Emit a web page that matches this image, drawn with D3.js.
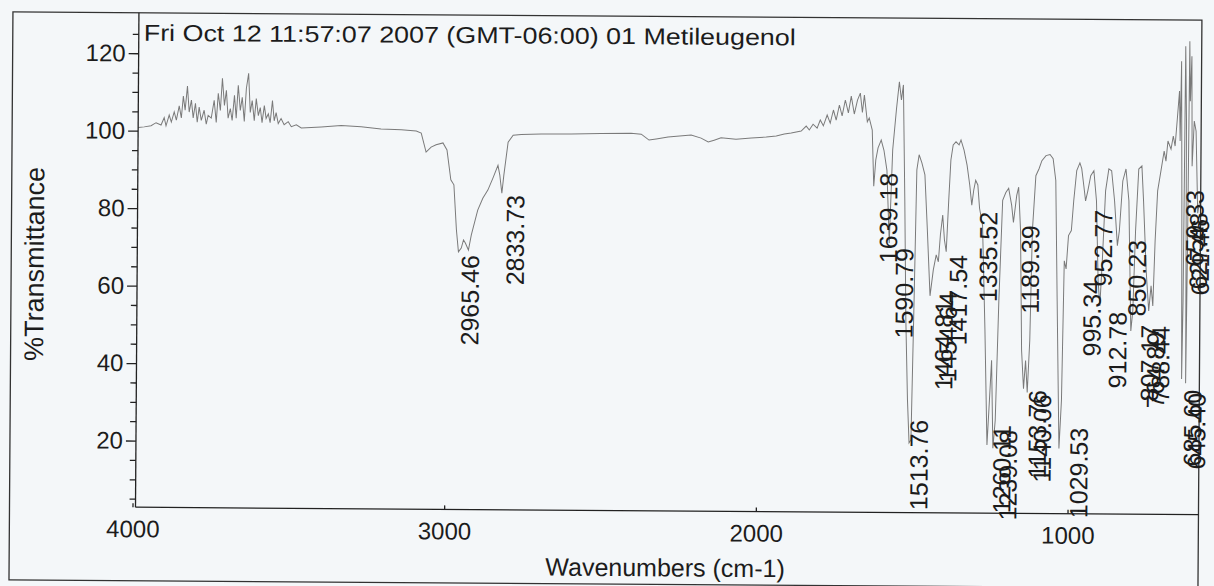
<!DOCTYPE html>
<html>
<head>
<meta charset="utf-8">
<script src="https://cdn.jsdelivr.net/npm/d3@7"></script>
<style>
  body { margin: 0; background: #f4f7f9; }
  svg { display: block; font-family: "Liberation Sans", Arial, sans-serif; }
</style>
</head>
<body>
<script>
// IR spectrum of methyleugenol
var wn = [3990, 3971, 3949, 3933, 3917, 3907, 3901, 3891, 3884, 3875, 3868, 3859, 3852, 3846, 3840, 3833,
  3827, 3820, 3814, 3807, 3801, 3795, 3788, 3779, 3772, 3766, 3756, 3747, 3740, 3734, 3727, 3721, 3714,
  3708, 3702, 3695, 3689, 3682, 3676, 3670, 3663, 3657, 3650, 3644, 3637, 3631, 3625, 3618, 3612, 3605,
  3599, 3593, 3586, 3580, 3573, 3567, 3560, 3554, 3548, 3541, 3532, 3522, 3509, 3499, 3483, 3467, 3403,
  3339, 3275, 3211, 3146, 3098, 3082, 3066, 3050, 3034, 3012, 2999, 2986, 2976, 2967, 2960, 2951, 2944,
  2938, 2928, 2919, 2899, 2883, 2867, 2851, 2835, 2829, 2822, 2816, 2803, 2787, 2761, 2697, 2601, 2505,
  2409, 2376, 2351, 2328, 2290, 2216, 2184, 2161, 2142, 2120, 2072, 2023, 1975, 1943, 1917, 1895, 1863,
  1847, 1837, 1825, 1812, 1802, 1792, 1780, 1770, 1760, 1751, 1741, 1732, 1722, 1712, 1703, 1693, 1683,
  1674, 1667, 1661, 1651, 1645, 1635, 1629, 1623, 1616, 1606, 1597, 1587, 1578, 1569, 1558, 1549, 1542,
  1536, 1529, 1523, 1516, 1510, 1504, 1497, 1491, 1484, 1475, 1465, 1456, 1446, 1436, 1427, 1420, 1414,
  1407, 1401, 1395, 1388, 1382, 1375, 1366, 1356, 1350, 1340, 1330, 1321, 1314, 1308, 1302, 1295, 1289,
  1279, 1269, 1260, 1253, 1247, 1241, 1234, 1225, 1215, 1205, 1196, 1186, 1180, 1170, 1164, 1157, 1151,
  1144, 1138, 1132, 1125, 1119, 1109, 1099, 1090, 1077, 1064, 1054, 1045, 1038, 1029, 1022, 1016, 1010,
  1003, 994, 987, 978, 968, 962, 955, 949, 942, 933, 923, 914, 907, 901, 894, 885, 875, 866, 856, 846,
  840, 830, 820, 810, 801, 795, 788, 779, 769, 763, 753, 744, 737, 731, 725, 718, 708, 698, 692, 686,
  676, 669, 663, 657, 650, 647, 644, 640, 637, 634, 631, 627, 624, 621, 618, 615, 611, 608, 602, 596,
  589, 583];
var trans = [100.8, 101.0, 101.3, 102.1, 101.5, 103.4, 101.3, 104.1, 102.3, 104.9, 102.8, 106.5, 103.4, 109.0, 105.4, 111.6,
  104.9, 108.0, 103.4, 107.2, 102.3, 106.2, 102.8, 105.4, 101.8, 104.1, 103.4, 108.0, 102.3, 109.8, 105.4, 113.7, 106.7,
  110.6, 103.4, 105.9, 102.8, 109.3, 103.4, 111.9, 105.4, 108.8, 102.6, 111.1, 115.0, 104.9, 108.0, 102.8, 108.5, 104.1,
  106.2, 102.3, 106.7, 103.4, 104.6, 102.3, 108.0, 102.8, 104.9, 102.1, 103.4, 101.8, 102.6, 101.3, 101.8, 101.0, 101.3,
  101.7, 101.4, 100.9, 100.7, 100.4, 99.9, 95.0, 96.3, 96.9, 97.4, 95.6, 87.9, 86.6, 75.0, 69.3, 70.3, 72.4,
  71.6, 69.8, 73.7, 80.1, 83.2, 85.3, 88.4, 91.7, 89.2, 84.5, 89.2, 97.7, 99.5, 99.7, 99.9, 99.9, 100.1,
  100.2, 100.0, 98.5, 98.8, 99.3, 99.9, 99.1, 98.1, 98.6, 99.2, 98.9, 99.2, 99.5, 99.8, 100.3, 100.6, 101.1,
  102.4, 101.4, 102.9, 101.9, 104.0, 102.5, 105.3, 103.2, 106.6, 104.0, 107.9, 105.1, 109.2, 105.9, 110.2, 105.6, 109.2,
  111.0, 106.0, 110.5, 103.6, 104.6, 101.5, 87.0, 93.8, 96.9, 98.9, 96.3, 91.1, 72.4, 96.4, 106.7, 114.0, 109.3,
  113.2, 83.5, 52.6, 31.9, 20.8, 21.6, 57.7, 91.3, 95.2, 93.1, 90.0, 75.8, 58.8, 65.5, 69.4, 67.6, 74.6,
  79.7, 73.3, 70.2, 83.6, 93.9, 97.8, 98.6, 97.8, 99.1, 96.5, 92.6, 87.5, 82.3, 86.2, 88.7, 87.5, 81.5,
  77.1, 50.0, 20.4, 32.0, 42.3, 19.6, 26.8, 57.8, 83.6, 85.6, 86.7, 82.3, 77.9, 84.9, 87.0, 75.8, 44.9,
  35.0, 42.3, 34.0, 47.4, 75.8, 90.0, 91.8, 93.9, 95.2, 95.5, 94.4, 88.8, 57.8, 19.6, 32.0, 68.1, 66.0,
  74.6, 75.9, 83.6, 91.4, 93.4, 91.9, 87.5, 83.6, 86.2, 90.1, 91.4, 83.6, 63.0, 56.5, 68.2, 86.2, 91.9, 91.4, 83.7, 72.1,
  75.9, 88.8, 91.9, 83.7, 50.1, 55.3, 75.9, 91.9, 92.7, 83.7, 65.6, 55.3, 61.8, 56.6, 73.4, 86.3, 91.4, 96.6, 94.0, 99.2,
  97.1, 100.5, 97.9, 104.4, 112.1, 99.2, 119.8, 83.7, 37.8, 57.9, 123.7, 104.4, 36.7, 70.8, 125.0, 109.5, 121.1, 92.7, 104.4, 101.8,
  80.6, 83.7];

// peak tags as printed, and where each tag sits (wavenumber, %T of its top end)
var tagText = ["2965.46", "2833.73", "1639.18", "1590.79", "1513.76", "1464.81", "1454.64", "1417.54",
  "1335.52", "1260.11", "1239.08", "1189.39", "1153.76", "1140.06", "1029.53", "995.34", "952.77",
  "912.78", "850.23", "807.17", "764.89", "788.44", "659.33", "627.48", "621.46", "685.60", "645.40"];
var tagWn = [2922, 2778, 1581, 1529, 1478, 1401, 1388, 1356, 1260, 1212, 1192, 1125, 1099, 1083, 965,
  926, 891, 843, 782, 740, 721, 705, 598, 586, 580, 601, 588];
var tagT = [68.5, 84.1, 90.5, 71.1, 26.8, 57.8, 59.8, 69.4, 80.6, 25.6, 24.3, 77.2, 34.7, 33.6, 25.0,
  63.2, 81.3, 55.0, 73.6, 51.7, 49.9, 51.4, 86.6, 80.7, 79.1, 35.0, 34.2];

var xTicks = [4000, 3000, 2000, 1000];
var yTicks = [20, 40, 60, 80, 100, 120];
var yMinor = [5, 10, 15, 25, 30, 35, 45, 50, 55, 65, 70, 75, 85, 90, 95, 105, 110, 115, 125];
var title = "Fri Oct 12 11:57:07 2007 (GMT-06:00) 01 Metileugenol";

var w = 1214, h = 586;
var plotLeft = 137, plotRight = 1200, plotTop = 16, plotBottom = 510.5;
var ink = "#1c1c1c";

var svg = d3.select("body").append("svg")
    .attr("width", w)
    .attr("height", h);

// the scan is slightly skewed
var g = svg.append("g").attr("transform", "rotate(0.4,607,293)");

var xScale = d3.scaleLinear().domain([4000, 583]).range([134, 1199]);
var yScale = d3.scaleLinear().domain([2.8, 130.2]).range([plotBottom, 17]);

// outer frame
g.append("rect")
    .attr("x", 11).attr("y", plotTop)
    .attr("width", plotRight - 11).attr("height", 584 - plotTop)
    .attr("fill", "none").attr("stroke", "#333").attr("stroke-width", 1.3);

g.append("defs").append("clipPath").attr("id", "plot")
  .append("rect")
    .attr("x", plotLeft).attr("y", plotTop)
    .attr("width", plotRight - plotLeft).attr("height", plotBottom - plotTop);

// spectrum
var line = d3.line()
    .x(function (d, i) { return xScale(wn[i]); })
    .y(function (d, i) { return yScale(trans[i]); });

g.append("path")
    .datum(wn)
    .attr("clip-path", "url(#plot)")
    .attr("d", line)
    .attr("fill", "none")
    .attr("stroke", "#7a7a7a")
    .attr("stroke-width", 1);

// y axis, major and minor ticks
var yAxis = d3.axisLeft(yScale).tickValues(yTicks).tickSize(10).tickPadding(3).tickSizeOuter(0);
var yAxisMinor = d3.axisLeft(yScale).tickValues(yMinor).tickSize(6).tickFormat("").tickSizeOuter(0);

var gy = g.append("g").attr("transform", "translate(" + plotLeft + ",0)").call(yAxis);
g.append("g").attr("transform", "translate(" + plotLeft + ",0)").call(yAxisMinor)
    .select(".domain").remove();
gy.select(".domain").attr("d", "M0," + plotBottom + "V" + plotTop);
gy.selectAll("text").attr("font-size", 24).attr("fill", ink)
    .attr("font-family", "Liberation Sans, Arial, sans-serif");

// x axis
var xAxis = d3.axisBottom(xScale).tickValues(xTicks).tickSizeInner(-4).tickSizeOuter(0).tickPadding(13)
    .tickFormat(d3.format("d"));
var gx = g.append("g").attr("transform", "translate(0," + plotBottom + ")").call(xAxis);
gx.select(".domain").remove();
gx.selectAll("text").attr("font-size", 24).attr("fill", ink)
    .attr("font-family", "Liberation Sans, Arial, sans-serif");
g.append("line")
    .attr("x1", plotLeft).attr("x2", plotRight)
    .attr("y1", plotBottom).attr("y2", plotBottom)
    .attr("stroke", "#222").attr("stroke-width", 1.3);

g.selectAll(".domain, .tick line").attr("stroke", "#222").attr("stroke-width", 1.3);

// peak tags
g.selectAll(".tag")
    .data(tagText)
    .enter()
    .append("text")
    .attr("class", "tag")
    .attr("transform", function (d, i) {
        return "translate(" + xScale(tagWn[i]) + "," + yScale(tagT[i]) + ") rotate(-90)";
    })
    .attr("dy", "0.35em")
    .attr("text-anchor", "end")
    .attr("font-size", 25)
    .attr("fill", ink)
    .text(function (d) { return d; });

// title and axis titles
g.append("text")
    .attr("x", 142).attr("y", 44)
    .attr("font-size", 23)
    .attr("textLength", 652)
    .attr("lengthAdjust", "spacingAndGlyphs")
    .attr("fill", ink)
    .text(title);

g.append("text")
    .attr("x", 667).attr("y", 576)
    .attr("text-anchor", "middle")
    .attr("font-size", 25)
    .attr("fill", ink)
    .text("Wavenumbers (cm-1)");

g.append("text")
    .attr("transform", "translate(34,268) rotate(-90)")
    .attr("dy", "0.35em")
    .attr("text-anchor", "middle")
    .attr("font-size", 27)
    .attr("fill", ink)
    .text("%Transmittance");
</script>
</body>
</html>
